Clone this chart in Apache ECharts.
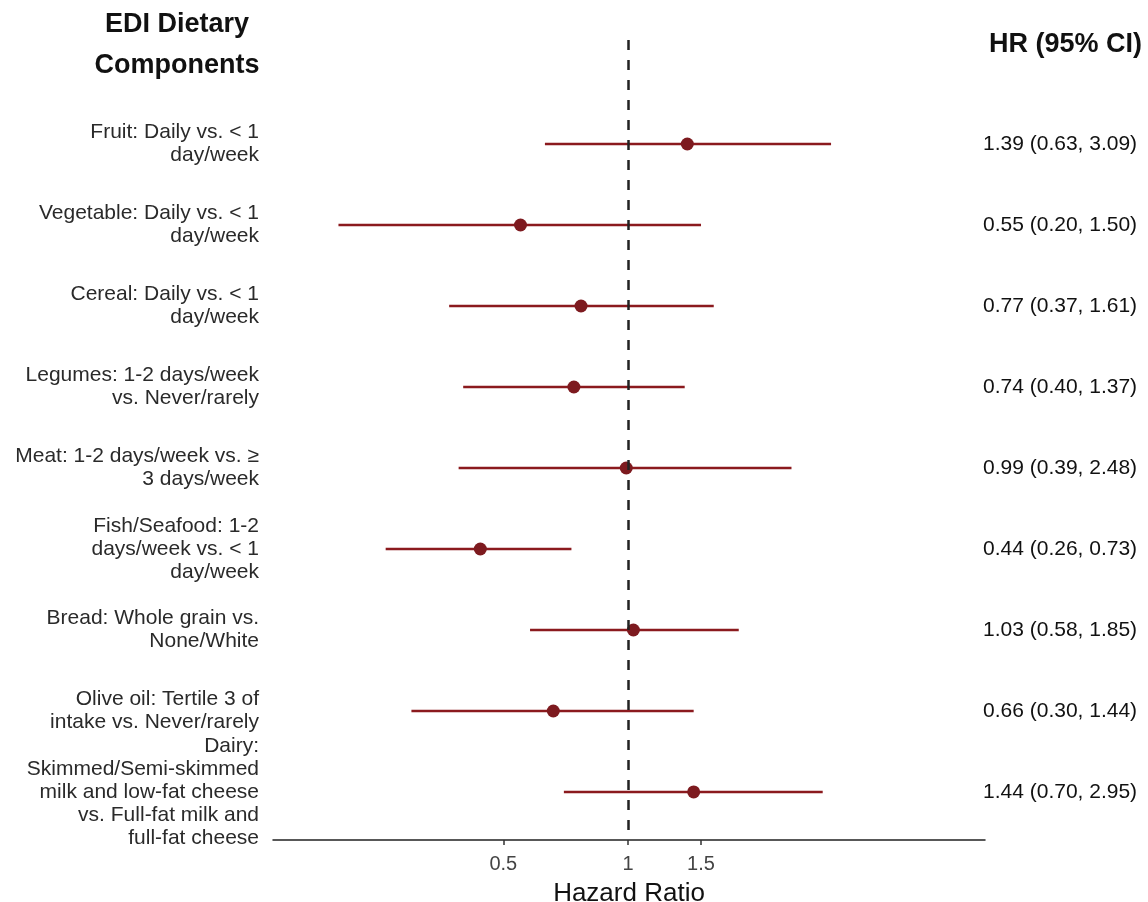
<!DOCTYPE html>
<html>
<head>
    <meta charset="utf-8">
    <title>EDI forest plot</title>
    <script src="https://cdn.jsdelivr.net/npm/echarts@6/dist/echarts.min.js"></script>
    <style type="text/css">
        * { margin: 0; padding: 0; }
        body { background: #fff; }
    </style>
</head>
<body>
<div id="main" style="width: 1148px; height: 902px;"></div>
<script type="text/javascript">
    // components, top to bottom
    var components = [
        'Fruit: Daily vs. < 1\nday/week',
        'Vegetable: Daily vs. < 1\nday/week',
        'Cereal: Daily vs. < 1\nday/week',
        'Legumes: 1-2 days/week\nvs. Never/rarely',
        'Meat: 1-2 days/week vs. ≥\n3 days/week',
        'Fish/Seafood: 1-2\ndays/week vs. < 1\nday/week',
        'Bread: Whole grain vs.\nNone/White',
        'Olive oil: Tertile 3 of\nintake vs. Never/rarely',
        'Dairy:\nSkimmed/Semi-skimmed\nmilk and low-fat cheese\nvs. Full-fat milk and\nfull-fat cheese'
    ];
    var hr    = [1.39, 0.55, 0.77, 0.74, 0.99, 0.44, 1.03, 0.66, 1.44];
    var lower = [0.63, 0.20, 0.37, 0.40, 0.39, 0.26, 0.58, 0.30, 0.70];
    var upper = [3.09, 1.50, 1.61, 1.37, 2.48, 0.73, 1.85, 1.44, 2.95];
    var xTicks = [0.5, 1, 1.5];

    var n = components.length;
    var font = '"Liberation Sans", Arial, Helvetica, sans-serif';
    var red = '#8b1a1e';

    // row position: first item at top
    function rowOf(i) { return n - i; }
    var rowValues = [];
    for (var k = 1; k <= n; k++) rowValues.push(k);

    function ciText(i) {
        return hr[i].toFixed(2) + ' (' + lower[i].toFixed(2) + ', ' + upper[i].toFixed(2) + ')';
    }

    var ciData = [], pointData = [];
    for (var i = 0; i < n; i++) {
        ciData.push([lower[i], upper[i], rowOf(i)]);
        pointData.push([hr[i], rowOf(i)]);
    }

    var myChart = echarts.init(document.getElementById('main'));

    var option = {
        animation: false,
        textStyle: { fontFamily: font },
        grid: { left: 273, right: 163, top: 40, bottom: 62, outerBoundsMode: 'none', containLabel: false },
        xAxis: {
            type: 'log',
            logBase: 10,
            min: 0.139,
            max: 7.27,
            name: 'Hazard Ratio',
            nameLocation: 'middle',
            nameGap: 41,
            nameTextStyle: { fontSize: 26, color: '#111' },
            axisLine: { show: true, lineStyle: { color: '#222', width: 1.5 } },
            axisTick: { show: true, customValues: xTicks, length: 5, lineStyle: { color: '#333', width: 1.5 } },
            axisLabel: {
                customValues: xTicks,
                margin: 14,
                fontSize: 20,
                color: '#444',
                hideOverlap: false,
                formatter: function (v) { return String(v); }
            },
            splitLine: { show: false },
            minorTick: { show: false }
        },
        yAxis: [{
            type: 'value',
            min: 0.407,
            max: 10.284,
            position: 'left',
            axisLine: { show: false },
            axisTick: { show: false },
            splitLine: { show: false },
            axisLabel: {
                customValues: rowValues,
                margin: 14,
                fontSize: 21,
                lineHeight: 23,
                color: '#2a2a2a',
                align: 'right',
                hideOverlap: false,
                formatter: function (v) { return components[n - Math.round(v)]; }
            }
        }, {
            type: 'value',
            min: 0.407,
            max: 10.284,
            position: 'right',
            axisLine: { show: false },
            axisTick: { show: false },
            splitLine: { show: false },
            axisLabel: {
                customValues: rowValues,
                margin: -2,
                fontSize: 21,
                color: '#111',
                align: 'left',
                hideOverlap: false,
                formatter: function (v) { return ciText(n - Math.round(v)); }
            }
        }],
        graphic: [{
            type: 'text',
            x: 177,
            y: 25,
            style: {
                text: 'EDI Dietary',
                align: 'center',
                verticalAlign: 'middle',
                font: 'bold 27px ' + font,
                fill: '#111'
            }
        }, {
            type: 'text',
            x: 177,
            y: 66,
            style: {
                text: 'Components',
                align: 'center',
                verticalAlign: 'middle',
                font: 'bold 27px ' + font,
                fill: '#111'
            }
        }, {
            type: 'text',
            x: 989,
            y: 45,
            style: {
                text: 'HR (95% CI)',
                align: 'left',
                verticalAlign: 'middle',
                font: 'bold 27px ' + font,
                fill: '#111'
            }
        }],
        series: [{
            type: 'custom',
            name: 'CI',
            renderItem: function (params, api) {
                var a = api.coord([api.value(0), api.value(2)]);
                var b = api.coord([api.value(1), api.value(2)]);
                return {
                    type: 'line',
                    shape: { x1: a[0], y1: a[1], x2: b[0], y2: b[1] },
                    style: { stroke: red, lineWidth: 2.4 }
                };
            },
            encode: { x: [0, 1], y: 2 },
            data: ciData,
            z: 2
        }, {
            type: 'scatter',
            name: 'HR',
            symbol: 'circle',
            symbolSize: 13,
            itemStyle: { color: '#7d1a1f', opacity: 1 },
            data: pointData,
            z: 4,
            markLine: {
                silent: true,
                symbol: 'none',
                label: { show: false },
                lineStyle: { color: '#222', type: [10, 10], dashOffset: 10, width: 2.5 },
                data: [{ xAxis: 1 }]
            }
        }]
    };

    myChart.setOption(option);
</script>
</body>
</html>
